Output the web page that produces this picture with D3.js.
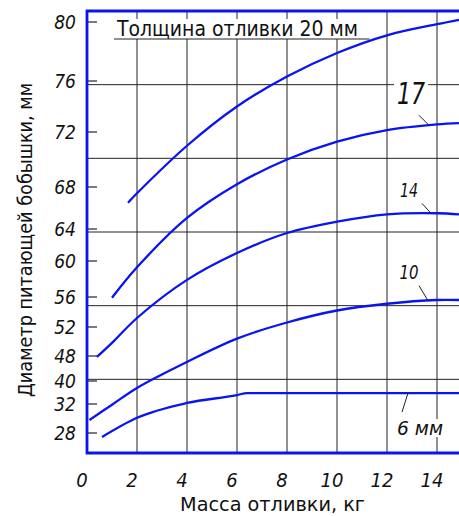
<!DOCTYPE html>
<html>
<head>
<meta charset="utf-8">
<script src="https://cdn.jsdelivr.net/npm/d3@7"></script>
<style>
    body {margin: 0; background: #fff}
    text {font-family: "DejaVu Sans Condensed", "DejaVu Sans", sans-serif; font-stretch: condensed; fill: #111}
    .num {font-style: italic}
</style>
</head>
<body>
<div id="chart"></div>
<script>
// y ticks of the nomogram (the scale is uneven)
let yTicks = [28, 32, 40, 48, 52, 56, 60, 64, 68, 72, 76, 80]
let xTicks = [0, 2, 4, 6, 8, 10, 12, 14]

// wall thickness, mm -> [mass kg, boss diameter mm]
let curve20 = [[1.64, 66.5], [2, 67.4], [4, 71.0], [6, 74.0], [8, 76.3], [10, 77.9], [12, 79.1], [14, 79.85], [14.88, 80.15]]
let curve17 = [[1.0, 55.9], [2, 59.3], [4, 65.05], [6, 68.2], [8, 70.0], [10, 71.3], [12, 72.15], [14, 72.6], [14.88, 72.7]]
let curve14 = [[0.4, 47.7], [1, 49.8], [2, 53.2], [4, 57.9], [6, 61.0], [8, 63.5], [10, 64.7], [12, 65.4], [14, 65.5], [14.88, 65.4]]
let curve10 = [[0.1, 29.8], [1, 31.9], [2, 37.6], [4, 46.1], [6, 50.4], [8, 52.6], [10, 54.2], [12, 55.1], [14, 55.6], [14.88, 55.6]]
let curve6 = [[0.6, 27.45], [2, 30.1], [4, 32.35], [6, 35.1], [6.4, 35.8], [8, 35.8], [10, 35.8], [12, 35.8], [14, 35.8], [14.88, 35.8]]

let curveNames = ["17", "14", "10", "6 мм"]
let title = "Толщина отливки 20 мм"
let xTitle = "Масса отливки, кг"
let yTitle = "Диаметр питающей бобышки, мм"

let width = 459, height = 516
let plotLeft = 87, plotTop = 11, plotBottom = 453
let blue = "#0a14f0"

let svg = d3.select("#chart")
    .append("svg")
    .attr("width", width)
    .attr("height", height)

let x = d3.scaleLinear().domain([0, 14]).range([plotLeft, 437])
let y = d3.scaleLinear()
    .domain(yTicks)
    .range([433, 404, 381, 356, 327, 297, 261, 229, 187, 132, 81, 22])

// drawing grid: the horizontal lines are evenly spaced, not at the ticks
let gridY = d3.scaleLinear().domain([0, 6]).range([plotBottom, plotTop])

svg.append("g")
    .selectAll("line")
    .data(xTicks.slice(1))
    .enter()
    .append("line")
    .attr("x1", d => x(d)).attr("x2", d => x(d))
    .attr("y1", plotTop).attr("y2", plotBottom)
    .attr("stroke", "#222").attr("stroke-width", 1)

svg.append("g")
    .selectAll("line")
    .data(d3.range(1, 6))
    .enter()
    .append("line")
    .attr("x1", plotLeft).attr("x2", width)
    .attr("y1", d => gridY(d)).attr("y2", d => gridY(d))
    .attr("stroke", "#222").attr("stroke-width", 1)

// tick dashes on the left border
svg.append("g")
    .selectAll("line")
    .data(yTicks)
    .enter()
    .append("line")
    .attr("x1", plotLeft).attr("x2", plotLeft + 10)
    .attr("y1", d => y(d)).attr("y2", d => y(d))
    .attr("stroke", "#222").attr("stroke-width", 1.2)

svg.append("g")
    .selectAll("text")
    .data(yTicks)
    .enter()
    .append("text")
    .attr("class", "num")
    .attr("x", 76)
    .attr("y", d => y(d))
    .attr("dy", "0.36em")
    .attr("text-anchor", "end")
    .attr("font-size", 19)
    .text(d => d)

svg.append("g")
    .selectAll("text")
    .data(xTicks)
    .enter()
    .append("text")
    .attr("class", "num")
    .attr("x", d => x(d) - 5)
    .attr("y", 487)
    .attr("text-anchor", "middle")
    .attr("font-size", 20)
    .text(d => d)

// white box behind a text, so the grid is broken round it
function knockout(t, pad) {
    let b = t.node().getBBox()
    svg.insert("rect", ".curves")
        .attr("x", b.x - pad).attr("y", b.y + 2)
        .attr("width", b.width + 2 * pad).attr("height", b.height - 4)
        .attr("fill", "#fff")
}

let curvesG = svg.append("g").attr("class", "curves")

let smooth = d3.line()
    .x(d => x(d[0]))
    .y(d => y(d[1]))
    .curve(d3.curveCatmullRom.alpha(0.5))
// the 6 mm curve goes flat, so no overshoot there
let flat = d3.line()
    .x(d => x(d[0]))
    .y(d => y(d[1]))
    .curve(d3.curveMonotoneX)

let curves = [curve20, curve17, curve14, curve10, curve6]
curvesG.selectAll("path")
    .data(curves)
    .enter()
    .append("path")
    .attr("d", d => d === curve6 ? flat(d) : smooth(d))
    .attr("fill", "none")
    .attr("stroke", blue)
    .attr("stroke-width", 2.3)

function valueAt(c, kg) {
    return d3.scaleLinear().domain(c.map(d => d[0])).range(c.map(d => d[1]))(kg)
}

// leaders: point on the curve (kg), leader start and text offsets in px
let labelLayout = [
    {at: 13.68, lx: -10, ly: -10, tx: -18, ty: -21, size: 31, len: 28},
    {at: 13.76, lx: -9, ly: -10, tx: -22, ty: -16, size: 20, len: 18},
    {at: 13.64, lx: -9, ly: -15, tx: -19, ty: -22, size: 20, len: 19},
    {at: 12.84, lx: -6, ly: 19, tx: 12, ty: 42, size: 19, len: 46}
]

labelLayout.forEach((l, i) => {
    let c = curves[i + 1]
    let px = x(l.at), py = y(valueAt(c, l.at))
    svg.append("line")
        .attr("x1", px + l.lx).attr("y1", py + l.ly)
        .attr("x2", px).attr("y2", py)
        .attr("stroke", "#222").attr("stroke-width", 1)
    let t = svg.append("text")
        .attr("class", "num")
        .attr("x", px + l.tx)
        .attr("y", py + l.ty)
        .attr("text-anchor", "middle")
        .attr("font-size", l.size)
        .attr("textLength", l.len)
        .attr("lengthAdjust", "spacingAndGlyphs")
        .text(curveNames[i])
    knockout(t, 3)
})

// title, underlined up to the 20 mm curve
let tt = svg.append("text")
    .attr("x", 117)
    .attr("y", 36)
    .attr("font-size", 21)
    .attr("textLength", 241)
    .attr("lengthAdjust", "spacingAndGlyphs")
    .text(title)
knockout(tt, 3)
svg.append("line")
    .attr("x1", 114).attr("x2", x(11.3))
    .attr("y1", 39).attr("y2", 39)
    .attr("stroke", "#222").attr("stroke-width", 1.2)

// frame
svg.append("path")
    .attr("d", "M" + width + "," + plotTop + "H" + plotLeft + "V" + plotBottom + "H" + width)
    .attr("fill", "none")
    .attr("stroke", blue)
    .attr("stroke-width", 2.8)

svg.append("text")
    .attr("x", 180)
    .attr("y", 511)
    .attr("font-size", 20)
    .attr("textLength", 185)
    .attr("lengthAdjust", "spacingAndGlyphs")
    .text(xTitle)

svg.append("text")
    .attr("transform", "translate(32,240)rotate(-90)")
    .attr("text-anchor", "middle")
    .attr("font-size", 19)
    .attr("textLength", 314)
    .attr("lengthAdjust", "spacingAndGlyphs")
    .text(yTitle)
</script>
</body>
</html>
